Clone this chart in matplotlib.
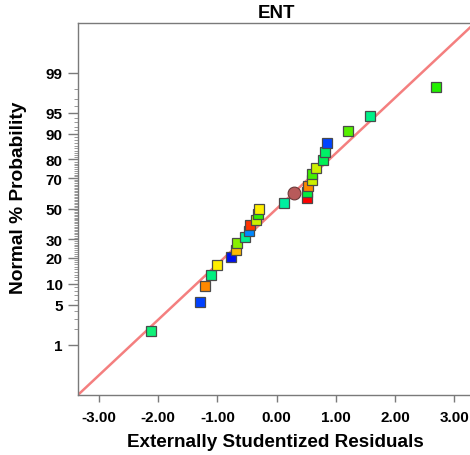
import matplotlib
matplotlib.use("Agg")
import matplotlib.pyplot as plt
from statistics import NormalDist

plt.rcParams['font.family'] = ['Liberation Sans', 'DejaVu Sans']

# Externally studentized residuals (sorted)
residuals = [-2.128, -1.291, -1.216, -1.105, -1.003, -0.767, -0.693, -0.676,
             -0.541, -0.468, -0.451, -0.355, -0.321, -0.299, 0.128, 0.507,
             0.507, 0.524, 0.596, 0.601, 0.664, 0.777, 0.816, 0.845,
             1.199, 1.576, 2.691]
colors = ['#10f078', '#0040ff', '#ff8800', '#00f080', '#ffee00', '#0010f0',
          '#ffbb00', '#88f000', '#00f090', '#0088ff', '#ff3300', '#ccf000',
          '#30f000', '#ffee00', '#00f0a0', '#ff0000', '#00f040', '#ff8800',
          '#ccf000', '#44f000', '#ccf000', '#00f055', '#00f066', '#0044ff',
          '#55f000', '#00f088', '#22f000']
# highlighted point
circle_x = [0.287]
circle_p = [60.3]

# reference line slope (z per residual unit)
line_slope = 0.949

major_probs = [1, 5, 10, 20, 30, 50, 70, 80, 90, 95, 99]
minor_probs = list(range(1, 100))
x_ticks = [-3, -2, -1, 0, 1, 2, 3]

nd = NormalDist()
n = len(residuals)
zvals = [nd.inv_cdf((i + 0.5) / n) for i in range(n)]

fig = plt.figure(figsize=(4.70, 4.56), dpi=100)
ax = fig.add_axes([78 / 470, 60 / 456, 397.4 / 470, 372 / 456])

xlim = (-3.356, 3.356)
ylim = (-3.187, 3.176)
ax.set_xlim(*xlim)
ax.set_ylim(*ylim)

ax.plot(list(xlim), [line_slope * xlim[0], line_slope * xlim[1]],
        color='#f47f7f', lw=1.8, zorder=2)

for x, z, c in zip(residuals, zvals, colors):
    ax.plot([x], [z], marker='s', ms=6.5, mfc=c, mec='#4a4a4a', mew=0.9,
            ls='none', zorder=3)

ax.plot(circle_x, [nd.inv_cdf(p / 100) for p in circle_p], marker='o', ms=9.2,
        mfc='#b85a5a', mec='#6a3a3a', mew=0.8, ls='none', zorder=4)

ax.set_yticks([nd.inv_cdf(p / 100) for p in major_probs])
ax.set_yticklabels([str(p) for p in major_probs])
ax.set_yticks([nd.inv_cdf(p / 100) for p in minor_probs], minor=True)
ax.set_xticks(x_ticks)
ax.set_xticklabels([f"{t:.2f}" for t in x_ticks])

for s in ax.spines.values():
    s.set_color('#7a7a7a')
    s.set_linewidth(1.0)

ax.tick_params(axis='x', which='major', direction='out', length=5,
               width=1.0, color='#7a7a7a', labelsize=11, pad=5.5)
ax.tick_params(axis='y', which='major', direction='out', length=7,
               width=1.0, color='#7a7a7a', labelsize=11, pad=4)
ax.tick_params(axis='y', which='minor', direction='out', length=3,
               width=0.6, color='#888888')
for lab in ax.get_xticklabels() + ax.get_yticklabels():
    lab.set_fontweight('bold')

ax.set_title('ENT', fontsize=13.5, fontweight='bold', pad=4.1)
ax.set_xlabel('Externally Studentized Residuals', fontsize=13.6,
              fontweight='bold')
ax.xaxis.set_label_coords(0.496, -0.102)
ax.set_ylabel('Normal % Probability', fontsize=13.8, fontweight='bold')
ax.yaxis.set_label_coords(-0.128, 0.532)

fig.savefig('out.png', dpi=100)
